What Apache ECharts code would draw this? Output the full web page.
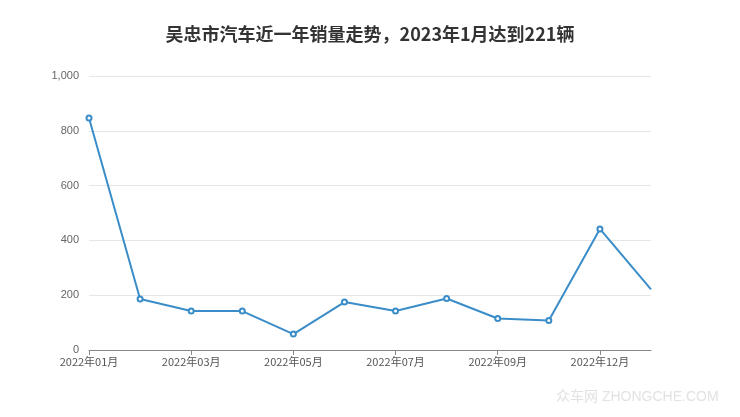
<!DOCTYPE html>
<html><head><meta charset="utf-8">
<script src="https://cdn.jsdelivr.net/npm/echarts@6/dist/echarts.min.js"></script>
<style>html,body{margin:0;padding:0;background:#fff}#c{width:740px;height:417px}</style>
</head><body><div id="c"></div>
<script>
const titleText = '吴忠市汽车近一年销量走势，2023年1月达到221辆';
const categories = ['2022年01月','2022年02月','2022年03月','2022年04月','2022年05月','2022年06月','2022年07月','2022年08月','2022年09月','2022年10月','2022年12月','2023年01月'];
const sales = [847, 186, 142, 142, 58, 175, 142, 188, 115, 108, 442, 221];
const yTicks = [0, 200, 400, 600, 800, 1000];

const seriesData = sales.map((v, i) => i === sales.length - 1 ? {value: v, symbol: 'none'} : v);

const chart = echarts.init(document.getElementById('c'));
chart.setOption({
  animation: false,
  backgroundColor: '#fff',
  title: {
    text: titleText, left: 'center', top: 20,
    textStyle: {fontSize: 18, fontWeight: 'bold', color: '#333', fontFamily: 'Noto Sans CJK SC'}
  },
  graphic: [{
    type: 'text', left: 556, top: 390,
    style: {text: '众车网 ZHONGCHE.COM', fill: '#e2e2e2', font: '14px "Liberation Sans", "Noto Sans CJK SC"',
      shadowColor: 'rgba(0,0,0,0.45)', shadowBlur: 1, shadowOffsetX: 1, shadowOffsetY: 1}
  }],
  grid: {left: 89, right: 89, top: 76, bottom: 67},
  xAxis: {
    type: 'category', data: categories, boundaryGap: false,
    axisLine: {lineStyle: {color: '#888'}},
    axisTick: {alignWithLabel: true, interval: 1, lineStyle: {color: '#888'}},
    axisLabel: {interval: 1, color: '#555', fontSize: 11, margin: 6, fontFamily: 'Noto Sans CJK SC'}
  },
  yAxis: {
    type: 'value', min: yTicks[0], max: yTicks[yTicks.length-1], interval: 200,
    axisLine: {show: false}, axisTick: {show: false},
    axisLabel: {color: '#666', fontSize: 11, margin: 10,
      formatter: v => v.toLocaleString('en-US')},
    splitLine: {lineStyle: {color: '#e6e6e6'}}
  },
  series: [{
    type: 'line', data: seriesData,
    symbol: 'emptyCircle', symbolSize: 5, showAllSymbol: true,
    lineStyle: {color: '#3a8dc8', width: 2},
    itemStyle: {color: '#3a8dc8', borderWidth: 1.5}
  }]
});
</script></body></html>
